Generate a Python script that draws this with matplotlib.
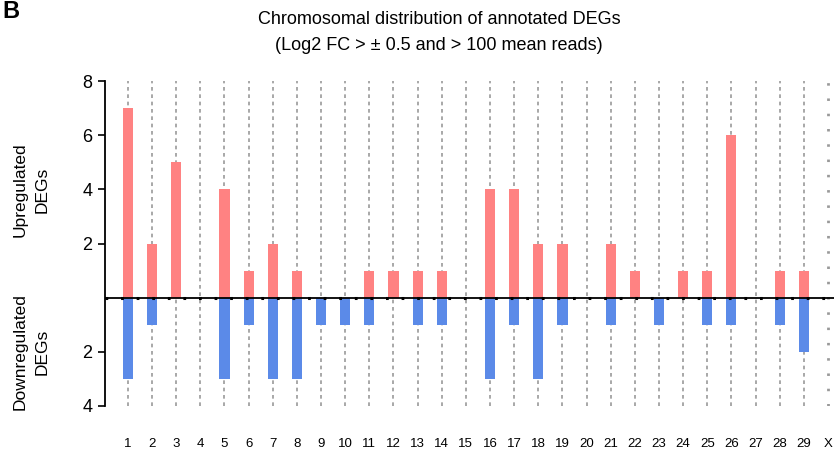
import matplotlib
matplotlib.use("Agg")
import matplotlib.pyplot as plt
import numpy as np

plt.rcParams['font.family'] = ['Liberation Sans', 'DejaVu Sans']

chromosomes = [str(i) for i in range(1, 30)] + ['X']
upregulated = [7, 2, 5, 0, 4, 1, 2, 1, 0, 0, 1, 1, 1, 1, 0, 4, 4, 2, 2, 0, 2, 1, 0, 1, 1, 6, 0, 1, 1, 0]
downregulated = [3, 1, 0, 0, 3, 1, 3, 3, 1, 1, 1, 0, 1, 1, 0, 3, 1, 3, 1, 0, 1, 0, 1, 0, 1, 1, 0, 1, 2, 0]
ytick_values = [8, 6, 4, 2, -2, -4]
ytick_labels = ['8', '6', '4', '2', '2', '4']

up_color = '#FF8282'
down_color = '#5B8AE8'

fig = plt.figure(figsize=(8.34, 4.5), dpi=100)
ax = fig.add_axes([105/834, 1 - 406/450, (834 - 105)/834, (406 - 81)/450])

x = np.arange(1, len(chromosomes) + 1)
ax.bar(x, upregulated, width=0.42, color=up_color, zorder=3)
ax.bar(x, [-v for v in downregulated], width=0.42, color=down_color, zorder=3)

ax.set_xlim(0.05, 30.25)
ax.set_ylim(-4, 8)

ax.set_xticks(x)
ax.set_xticklabels(chromosomes, fontsize=9.5)
ax.tick_params(axis='x', length=0, pad=23)
ax.set_yticks(ytick_values)
ax.set_yticklabels(ytick_labels, fontsize=13)
ax.tick_params(axis='y', direction='out', length=5, width=1.2, pad=4)

ax.grid(axis='x', color='#999999', linestyle=(0, (2.2, 2.2)), linewidth=1.2, zorder=1)
gl = ax.xaxis.get_gridlines()
gl[-1].set_linestyle((0, (0.9, 4.6)))
gl[-1].set_linewidth(2.0)
ax.grid(axis='y', visible=False)

for s in ['top', 'right', 'bottom']:
    ax.spines[s].set_visible(False)
ax.spines['left'].set_linewidth(1.3)

ax.axhline(0, color='black', linewidth=1.3, zorder=4)
ax.axhline(0, color='black', linewidth=2.2, linestyle=(0, (0.9, 4.2)), zorder=4)

fig.text(439/834, 1 - 20/450, 'Chromosomal distribution of annotated DEGs',
         ha='center', va='center', fontsize=13)
fig.text(439/834, 1 - 46/450, '(Log2 FC > \u00b1 0.5 and > 100 mean reads)',
         ha='center', va='center', fontsize=13)
fig.text(2/834, 1 - 12/450, 'B', ha='left', va='center', fontsize=17, fontweight='bold')

fig.text(31/834, 1 - 190/450, 'Upregulated\nDEGs', rotation=90, ha='center', va='center',
         fontsize=12.5, multialignment='center', linespacing=1.55)
fig.text(31/834, 1 - 352/450, 'Downregulated\nDEGs', rotation=90, ha='center', va='center',
         fontsize=12.5, multialignment='center', linespacing=1.55)

fig.savefig('out.png', dpi=100)
